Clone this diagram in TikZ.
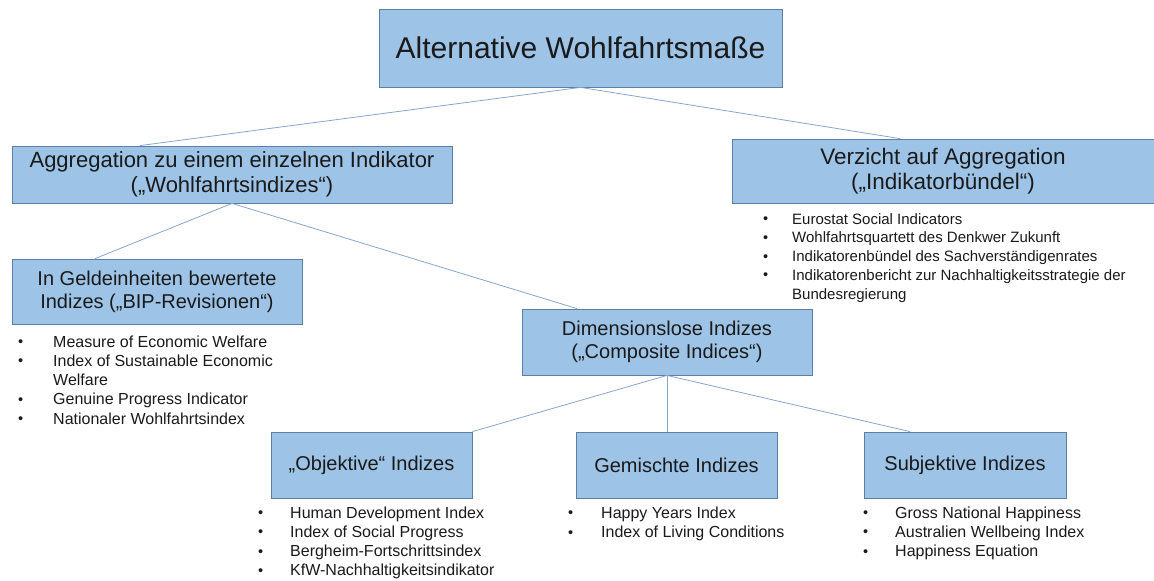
\documentclass[tikz,border=0pt]{standalone}
\usepackage{fontspec}
\setmainfont{Liberation Sans}
\usetikzlibrary{calc}
\definecolor{boxfill}{HTML}{9DC3E6}
\definecolor{boxline}{HTML}{5E7FA5}
\definecolor{conn}{HTML}{86A6CE}
\definecolor{txt}{HTML}{1A1A1A}
\newcommand{\lbul}{\raisebox{0.4pt}{\fontsize{14.5}{14.5}\selectfont\textbullet}}
\begin{document}
\begin{tikzpicture}[x=1pt,y=-1pt,
  box/.style={draw=boxline, fill=boxfill, line width=0.8pt, inner sep=0pt, align=center, text=txt},
  lst/.style={inner sep=0pt, text=txt, anchor=base west},
  conline/.style={draw=conn, line width=0.8pt}]
\path[use as bounding box] (0,0) rectangle (1154,581);

% boxes
\node[box, minimum width=403pt, minimum height=78pt, font=\fontsize{30}{34}\selectfont] (top) at (580.5,48) {Alternative Wohlfahrtsmaße};
\node[box, minimum width=440pt, minimum height=57pt, font=\fontsize{22}{25}\selectfont] (agg) at (232,174.5) {Aggregation zu einem einzelnen Indikator\\(„Wohlfahrtsindizes“)};
\node[box, minimum width=422pt, minimum height=64pt, font=\fontsize{22.5}{25}\selectfont] (verz) at (943,171) {Verzicht auf Aggregation\\(„Indikatorbündel“)};
\node[box, minimum width=290pt, minimum height=65pt, font=\fontsize{20}{23}\selectfont] (geld) at (157,291.5) {In Geldeinheiten bewertete\\Indizes („BIP-Revisionen“)};
\node[box, minimum width=290pt, minimum height=66pt, font=\fontsize{20}{23}\selectfont] (dim) at (667,342) {Dimensionslose Indizes\\(„Composite Indices“)};
\node[box, minimum width=201pt, minimum height=66pt, font=\fontsize{20}{23}\selectfont] (obj) at (371.5,465) {„Objektive“ Indizes};
\node[box, minimum width=201pt, minimum height=66pt, font=\fontsize{20}{23}\selectfont] (gem) at (676.5,465) {Gemischte Indizes};
\node[box, minimum width=202pt, minimum height=66pt, font=\fontsize{20}{23}\selectfont] (subj) at (965,465) {Subjektive Indizes};

% connectors
\draw[conline] (top.south) -- ([xshift=-92pt]agg.north);
\draw[conline] (top.south) -- ([xshift=-43pt]verz.north);
\draw[conline] (agg.south) -- ([xshift=-62pt]geld.north);
\draw[conline] (agg.south) -- ([xshift=-90pt]dim.north);
\draw[conline] (dim.south) -- (obj.north east);
\draw[conline] (dim.south) -- (dim.south |- gem.north);
\draw[conline] (dim.south) -- ([xshift=-55pt]subj.north);

% lists
\node[lst, font=\fontsize{15}{18.75}\selectfont] (lverz) at (763,224) {\begin{tabular}[t]{@{}p{29pt}@{}l@{}}
\lbul & Eurostat Social Indicators\\
\lbul & Wohlfahrtsquartett des Denkwer Zukunft\\
\lbul & Indikatorenbündel des Sachverständigenrates\\
\lbul & Indikatorenbericht zur Nachhaltigkeitsstrategie der\\
 & Bundesregierung
\end{tabular}};

\node[lst, font=\fontsize{16}{19.25}\selectfont] (lgeld) at (18,347) {\begin{tabular}[t]{@{}p{35pt}@{}l@{}}
\lbul & Measure of Economic Welfare\\
\lbul & Index of Sustainable Economic\\
 & Welfare\\
\lbul & Genuine Progress Indicator\\
\lbul & Nationaler Wohlfahrtsindex
\end{tabular}};

\node[lst, font=\fontsize{16}{19.3}\selectfont] (lobj) at (258,518) {\begin{tabular}[t]{@{}p{32pt}@{}l@{}}
\lbul & Human Development Index\\
\lbul & Index of Social Progress\\
\lbul & Bergheim-Fortschrittsindex\\
\lbul & KfW-Nachhaltigkeitsindikator
\end{tabular}};

\node[lst, font=\fontsize{16}{19.5}\selectfont] (lgem) at (568,518) {\begin{tabular}[t]{@{}p{33pt}@{}l@{}}
\lbul & Happy Years Index\\
\lbul & Index of Living Conditions
\end{tabular}};

\node[lst, font=\fontsize{16}{19.3}\selectfont] (lsubj) at (863,518) {\begin{tabular}[t]{@{}p{32pt}@{}l@{}}
\lbul & Gross National Happiness\\
\lbul & Australien Wellbeing Index\\
\lbul & Happiness Equation
\end{tabular}};
\end{tikzpicture}
\end{document}
